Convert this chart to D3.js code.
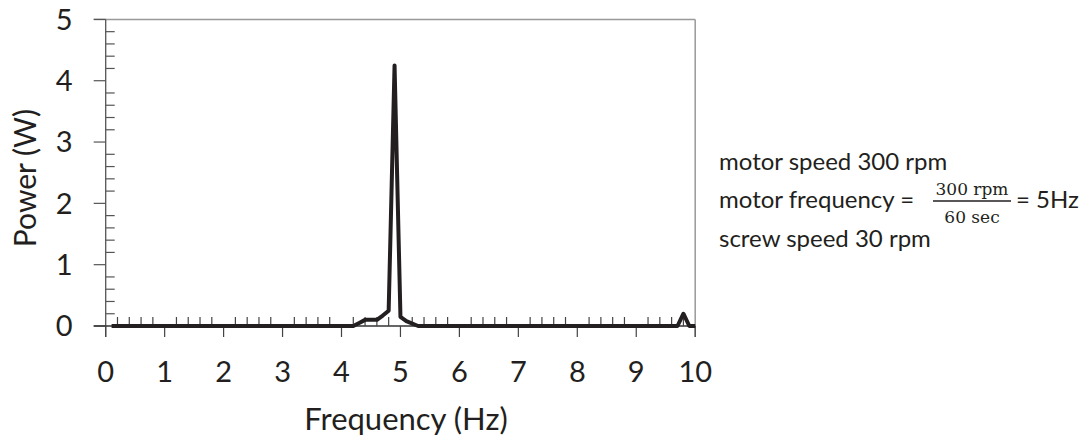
<!DOCTYPE html>
<html>
<head>
<meta charset="utf-8">
<script src="https://cdn.jsdelivr.net/npm/d3@7"></script>
<style>
  body { margin: 0; background: #fff; }
  svg { display: block; }
  text { font-family: Lato, "Open Sans", sans-serif; fill: #231f20; }
</style>
</head>
<body>
<script>
const width = 1084;
const height = 441;

// spectrum (Hz, W)
const freq  = [0.1, 4.2, 4.3, 4.4, 4.6, 4.7, 4.8, 4.9, 5.0, 5.1, 5.3, 9.7, 9.8, 9.9, 10];
const power = [0,   0,   0.05, 0.1, 0.1, 0.17, 0.25, 4.25, 0.15, 0.08, 0, 0, 0.2, 0, 0];

const xTicks = [0, 1, 2, 3, 4, 5, 6, 7, 8, 9, 10];
const yTicks = [0, 1, 2, 3, 4, 5];

const noteLines = ["motor speed 300 rpm", "motor frequency =", "screw speed 30 rpm"];
const fracTop = "300 rpm";
const fracBottom = "60 sec";
const fracAfter = "= 5Hz";

const plot = {left: 105.7, right: 695.2, top: 19.4, bottom: 326};

const x = d3.scaleLinear().domain([0, 10]).range([plot.left, plot.right]);
const y = d3.scaleLinear().domain([0, 5]).range([plot.bottom, plot.top]);

const svg = d3.select("body").append("svg")
  .attr("width", width)
  .attr("height", height);

// minor ticks every 0.2
const xMinor = d3.range(1, 50).filter(i => i % 5 !== 0).map(i => i / 5);
const yMinor = d3.range(1, 25).filter(i => i % 5 !== 0).map(i => i / 5);

// top and right border (gray)
svg.append("line")
  .attr("x1", plot.left - 12).attr("x2", plot.right)
  .attr("y1", plot.top).attr("y2", plot.top)
  .attr("stroke", "#999").attr("stroke-width", 1.5);
svg.append("line")
  .attr("x1", plot.right).attr("x2", plot.right)
  .attr("y1", plot.top).attr("y2", plot.bottom + 11)
  .attr("stroke", "#999").attr("stroke-width", 1.5);

// y axis
const yAxisG = svg.append("g").attr("transform", `translate(${plot.left},0)`);
yAxisG.append("line")
  .attr("x1", 0).attr("x2", 0)
  .attr("y1", plot.top).attr("y2", plot.bottom + 11)
  .attr("stroke", "#555").attr("stroke-width", 1.3);
yAxisG.selectAll(".minor").data(yMinor).enter().append("line")
  .attr("x1", 0).attr("x2", 9)
  .attr("y1", d => y(d)).attr("y2", d => y(d))
  .attr("stroke", "#555").attr("stroke-width", 1.2);
yAxisG.selectAll(".major").data(yTicks).enter().append("line")
  .attr("x1", -12).attr("x2", 0)
  .attr("y1", d => y(d)).attr("y2", d => y(d))
  .attr("stroke", "#555").attr("stroke-width", 1.2);
yAxisG.selectAll(".lbl").data(yTicks).enter().append("text")
  .attr("x", -33).attr("y", d => y(d))
  .attr("dy", "0.36em")
  .attr("text-anchor", "end")
  .style("font-size", "29px")
  .text(d => d);

// x axis
const xAxisG = svg.append("g").attr("transform", `translate(0,${plot.bottom})`);
xAxisG.append("line")
  .attr("x1", plot.left - 12).attr("x2", plot.right)
  .attr("y1", 0).attr("y2", 0)
  .attr("stroke", "#333").attr("stroke-width", 1.3);
xAxisG.selectAll(".minor").data(xMinor).enter().append("line")
  .attr("x1", d => x(d)).attr("x2", d => x(d))
  .attr("y1", 0).attr("y2", -9)
  .attr("stroke", "#444").attr("stroke-width", 1.2);
xAxisG.selectAll(".major").data(xTicks).enter().append("line")
  .attr("x1", d => x(d)).attr("x2", d => x(d))
  .attr("y1", 0).attr("y2", 11)
  .attr("stroke", "#444").attr("stroke-width", 1.2);
xAxisG.selectAll(".lbl").data(xTicks).enter().append("text")
  .attr("x", d => x(d)).attr("y", 46)
  .attr("dy", "0.36em")
  .attr("text-anchor", "middle")
  .style("font-size", "29px")
  .text(d => d);

// axis titles
svg.append("text")
  .attr("x", 406).attr("y", 430)
  .attr("text-anchor", "middle")
  .style("font-size", "31px")
  .text("Frequency (Hz)");
svg.append("text")
  .attr("transform", "translate(36,178) rotate(-90)")
  .attr("text-anchor", "middle")
  .style("font-size", "30px")
  .text("Power (W)");

// spectrum line
const pts = freq.map((f, i) => [f, power[i]]);
svg.append("path")
  .datum(pts)
  .attr("fill", "none")
  .attr("stroke", "#231f20")
  .attr("stroke-width", 4)
  .attr("stroke-linejoin", "round")
  .attr("d", d3.line().x(d => x(d[0])).y(d => y(d[1])));

// note on the right
const note = svg.append("g");
note.append("text").attr("x", 719).attr("y", 170).style("font-size", "24px").text(noteLines[0]);
note.append("text").attr("x", 719).attr("y", 208).style("font-size", "24px").text(noteLines[1]);
note.append("text").attr("x", 719).attr("y", 247).style("font-size", "24px").text(noteLines[2]);

note.append("text").attr("x", 972).attr("y", 195)
  .attr("text-anchor", "middle")
  .style("font-family", "'DejaVu Serif', serif").style("font-size", "17px")
  .text(fracTop);
note.append("line")
  .attr("x1", 933).attr("x2", 1011).attr("y1", 201).attr("y2", 201)
  .attr("stroke", "#231f20").attr("stroke-width", 1.4);
note.append("text").attr("x", 972).attr("y", 223)
  .attr("text-anchor", "middle")
  .style("font-family", "'DejaVu Serif', serif").style("font-size", "17px")
  .text(fracBottom);
note.append("text").attr("x", 1016).attr("y", 208).style("font-size", "24px").text(fracAfter);
</script>
</body>
</html>
